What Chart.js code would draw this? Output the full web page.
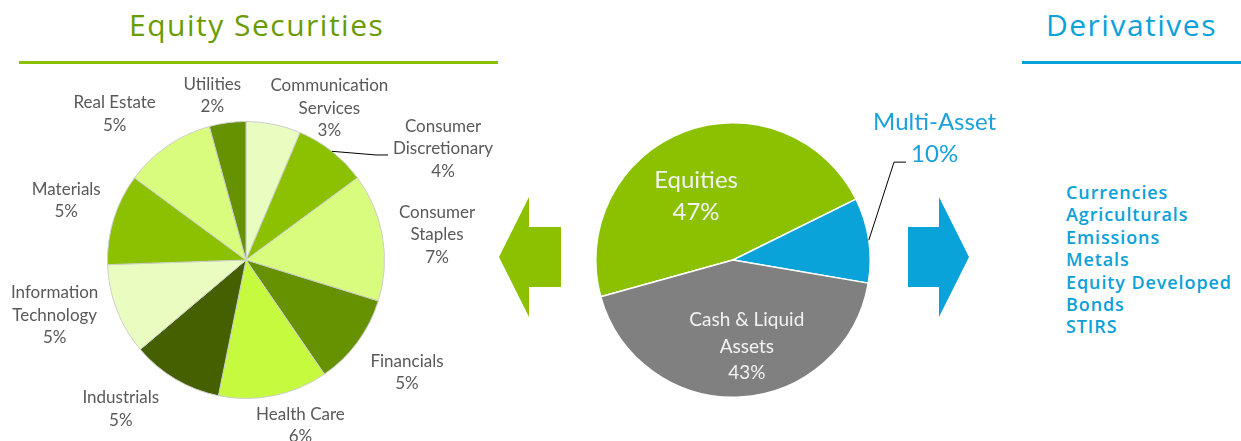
<!DOCTYPE html>
<html>
<head>
<meta charset="utf-8">
<script src="https://cdn.jsdelivr.net/npm/chart.js@4.4.1/dist/chart.umd.min.js"></script>
<style>
  html,body{margin:0;padding:0;background:#fff;}
  body{width:1241px;height:441px;position:relative;overflow:hidden;font-family:'Open Sans',sans-serif;}
  .title{position:absolute;top:4px;font-size:30px;font-weight:400;letter-spacing:1.5px;white-space:nowrap;}
  .rule{position:absolute;top:61px;height:3px;}
  .box{position:absolute;top:0;height:441px;}
  .deriv{position:absolute;left:1066px;top:181px;color:#0AA1DA;font-size:18px;font-weight:600;letter-spacing:0.9px;line-height:22.4px;white-space:nowrap;}
  svg{position:absolute;left:0;top:0;}
</style>
</head>
<body>
<div class="title" style="left:129px;color:#6A9B00">Equity Securities</div>
<div class="rule" style="left:19px;width:479px;background:#8BC100"></div>
<div class="title" style="left:1046px;color:#0AA1DA">Derivatives</div>
<div class="rule" style="left:1022px;width:219px;background:#0AA1DA"></div>

<svg width="1241" height="441">
  <polygon points="499,257 529,197 529,227 561,227 561,287 529,287 529,317" fill="#8BC100"/>
  <polygon points="908,227 939,227 939,197 969,257 939,317 939,287 908,287" fill="#09A2D9"/>
</svg>

<div class="box" style="left:0;width:520px"><canvas id="sectors"></canvas></div>
<div class="box" style="left:560px;width:450px"><canvas id="assets"></canvas></div>

<div class="deriv" id="derivList"></div>

<script>
// Equity securities breakdown (% of fund)
const sectorNames = [
  ['Communication','Services'], ['Consumer','Discretionary'], ['Consumer','Staples'],
  ['Financials'], ['Health Care'], ['Industrials'], ['Information','Technology'],
  ['Materials'], ['Real Estate'], ['Utilities']
]
const sectorValues = [3, 4, 7, 5, 6, 5, 5, 5, 5, 2]
const sectorColors = ['#EAFDC0','#8BC100','#D9FB7E','#669100','#C5FA3E',
                      '#456000','#EAFDC0','#8BC100','#D9FB7E','#669100']

// Asset allocation
const assetNames = [['Equities'], ['Multi-Asset'], ['Cash & Liquid','Assets']]
const assetValues = [47, 10, 43]
const assetColors = ['#8BC100', '#09A2D9', '#808080']

const derivatives = ['Currencies','Agriculturals','Emissions','Metals','Equity Developed','Bonds','STIRS']

// label nudges (px) on top of the computed slice position
const sectorNudge = [[42,27],[74,32],[7,5],[12,11],[16,-2],[-30,2],[-12,-10],[-5,-9],[-24,-5],[-10,5]]
const assetNudge = [[-10,7],[-5,-96],[10,11]]

document.getElementById('derivList').innerHTML = derivatives.map(d => `<div>${d}</div>`).join('')

const sliceLabels = {
  id:'sliceLabels',
  afterDatasetsDraw(chart, args, o) {
    const ctx = chart.ctx
    const meta = chart.getDatasetMeta(0)
    const vals = chart.data.datasets[0].data
    meta.data.forEach((arc, i) => {
      const p = arc.getProps(['x','y','startAngle','endAngle','outerRadius'], true)
      const mid = (p.startAngle + p.endAngle) / 2
      const cx = Math.cos(mid), cy = Math.sin(mid)
      const st = o.style[i]
      const lines = [...chart.data.labels[i], vals[i] + '%']
      ctx.save()
      ctx.font = `${st.size}px Lato`
      const w = Math.max(...lines.map(l => ctx.measureText(l).width))
      const h = lines.length * st.lh
      let x, y
      if (st.inside) {
        x = p.x + cx * p.outerRadius * st.r
        y = p.y + cy * p.outerRadius * st.r
      } else {
        x = p.x + cx * (p.outerRadius + 10) + cx * w / 2
        y = p.y + cy * (p.outerRadius + 10) + cy * h / 2
      }
      x += o.nudge[i][0]; y += o.nudge[i][1]
      ctx.fillStyle = st.color
      ctx.textAlign = 'center'
      ctx.textBaseline = 'middle'
      const top = y - h / 2 + st.lh / 2
      lines.forEach((l, k) => ctx.fillText(l, x, top + k * st.lh))
      if (st.leader) {
        // leader from slice edge to the left of one label line
        const ex = p.x + cx * p.outerRadius, ey = p.y + cy * p.outerRadius
        const k = st.li
        const lw = ctx.measureText(lines[k]).width
        const lx = x - lw / 2 - 5, ly = top + k * st.lh + st.ld
        ctx.strokeStyle = '#000'
        ctx.lineWidth = 1
        ctx.beginPath()
        ctx.moveTo(ex, ey); ctx.lineTo(lx - 12, ly); ctx.lineTo(lx, ly)
        ctx.stroke()
      }
      ctx.restore()
    })
  }
}

const grey = {size:17, lh:22.5, color:'#595959'}
new Chart(document.getElementById('sectors'), {
  type:'pie',
  data:{ labels:sectorNames, datasets:[{ data:sectorValues, backgroundColor:sectorColors, borderColor:'#CFCFCF', borderWidth:1 }] },
  options:{
    responsive:true, maintainAspectRatio:false, animation:false,
    layout:{ padding:{ left:107, right:135, top:121, bottom:42 } },
    plugins:{
      legend:{display:false}, tooltip:{enabled:false},
      sliceLabels:{
        nudge:sectorNudge,
        style:sectorValues.map((_, i) => i === 1 ? {...grey, leader:true, li:1, ld:6} : grey)
      }
    }
  },
  plugins:[sliceLabels]
})

new Chart(document.getElementById('assets'), {
  type:'pie',
  data:{ labels:assetNames, datasets:[{ data:assetValues, backgroundColor:assetColors, borderColor:'#fff', borderWidth:1.5 }] },
  options:{
    responsive:true, maintainAspectRatio:false, animation:false,
    rotation:-105.5,
    layout:{ padding:{ left:35, right:139, top:122, bottom:43 } },
    plugins:{
      legend:{display:false}, tooltip:{enabled:false},
      sliceLabels:{
        nudge:assetNudge,
        style:[
          {size:24, lh:32, color:'#F2F2F2', inside:true, r:0.55},
          {size:24, lh:32, color:'#1BA1DB', leader:true, li:1, ld:8},
          {size:19, lh:26.5, color:'#F2F2F2', inside:true, r:0.55}
        ]
      }
    }
  },
  plugins:[sliceLabels]
})
</script>
</body>
</html>
